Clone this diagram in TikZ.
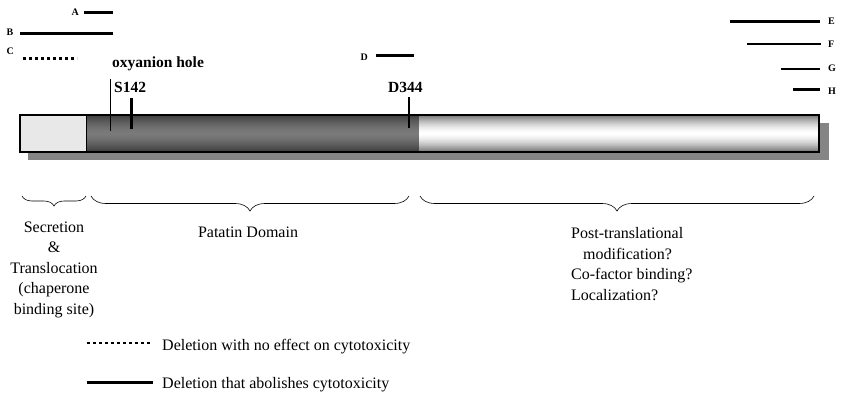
\documentclass[tikz,border=0pt]{standalone}
\usepackage{fontspec}
\setmainfont{Liberation Serif}
\usetikzlibrary{decorations.pathreplacing, positioning}
\definecolor{barlight}{HTML}{E8E8E8}
\definecolor{bardark}{HTML}{3C3C3C}
\definecolor{barmid}{HTML}{7A7A7A}
\definecolor{barshadow}{HTML}{858585}

\begin{document}
\begin{tikzpicture}[
  x=1pt, y=-1pt,
  dlbl/.style={font=\fontsize{10}{12}\selectfont\bfseries, inner sep=0pt},
  site/.style={font=\fontsize{15.5}{18}\selectfont\bfseries, inner sep=0pt},
  region/.style={font=\fontsize{16}{20.5}\selectfont, inner sep=0pt},
  del/.style={line width=3pt},
  delthin/.style={line width=2pt},
  nodel/.style={line width=2.5pt, dash pattern=on 3pt off 3pt},
  brc/.style={decorate, decoration={brace, mirror, amplitude=#1}, line width=0.6pt},
  brc/.default=15pt,
]
  \useasboundingbox (0,0) rectangle (842,394);

  % protein bar (gradients built from thin strips)
  \fill[barshadow] (28,123) rectangle (829,160);
  \fill[barlight] (20,115) rectangle (86,152);
  \foreach \i in {0,...,36}{
    \pgfmathsetmacro\w{abs(\i+0.5-18.5)/18.5}
    \pgfmathsetmacro\pd{100*\w^1.5}
    \pgfmathsetmacro\pw{55*\w^1.6}
    \fill[bardark!\pd!barmid] (86,115+\i) rectangle (419,116.2+\i);
    \fill[black!\pw!white] (419,115+\i) rectangle (819,116.2+\i);
  }
  \draw[line width=0.8pt] (86,115) -- (86,152);
  \draw[line width=2pt] (20,115) rectangle (819,152);

  % active site marks
  \node[site, anchor=base west] (oxy)  at (112,67)   {oxyanion hole};
  \node[site, anchor=base west] (s142) at (114,92.5) {S142};
  \node[site, anchor=base west] (d344) at (388,92.5) {D344};
  \draw[line width=1.3pt] (110.7,79) -- (110.7,131);
  \draw[line width=2.5pt] (131.7,98) -- (131.7,129);
  \draw[line width=2.5pt] (409,97) -- (409,128);

  % deletions
  \node[dlbl, anchor=base east] (labA) at (79,15)   {A};
  \node[dlbl, anchor=base west] (labB) at (6.5,35.5) {B};
  \node[dlbl, anchor=base west] (labC) at (6.5,54)  {C};
  \node[dlbl, anchor=base west] (labD) at (360.5,60.5) {D};
  \node[dlbl, anchor=base west] (labE) at (828,24)  {E};
  \node[dlbl, anchor=base west] (labF) at (828,47.7) {F};
  \node[dlbl, anchor=base west] (labG) at (828,71.5) {G};
  \node[dlbl, anchor=base west] (labH) at (828,94)  {H};
  \draw[del]     (84,12)   -- (113,12);
  \draw[del]     (20,33.3) -- (113,33.3);
  \draw[nodel]   (23,58.3) -- (77,58.3);
  \draw[del]     (376,55.7) -- (414,55.7);
  \draw[del]     (730,21.7) -- (820,21.7);
  \draw[delthin] (747,44.3) -- (821,44.3);
  \draw[delthin] (781,69.3) -- (820,69.3);
  \draw[del]     (793,89.3) -- (820,89.3);

  % domains
  \draw[brc=10pt] (22,196) -- (86,196);
  \draw[brc] (91,196) -- (409,196);
  \draw[brc] (420,196) -- (814,196);
  \node[region, anchor=north, align=center] (secr) at (54,221.5)
    {Secretion\\\&\\Translocation\\(chaperone\\binding site)};
  \node[region, anchor=north] (patatin) at (248,226.5) {Patatin Domain};
  \node[region, anchor=north west, align=left] (ptm) at (571,227.5)
    {Post-translational\\\hspace*{12pt}modification?\\Co-factor binding?\\Localization?};

  % legend
  \node[region, anchor=base west] (keyno) at (162,350) {Deletion with no effect on cytotoxicity};
  \node[region, anchor=base west] (keyab) at (162,388) {Deletion that abolishes cytotoxicity};
  \draw[nodel] (87,343) -- (152,343);
  \draw[del]   (87,382) -- (153,382);
\end{tikzpicture}
\end{document}
